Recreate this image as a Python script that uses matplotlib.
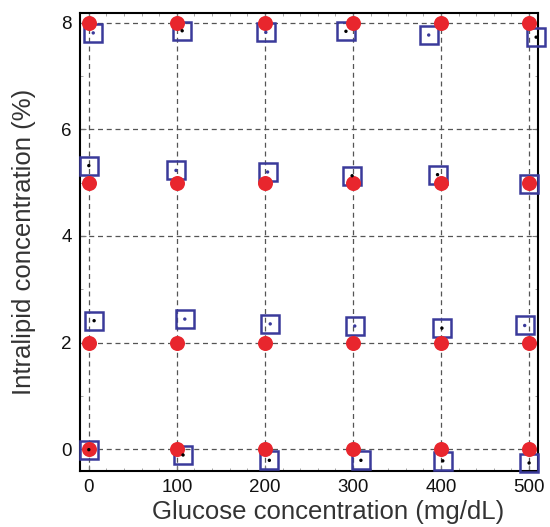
import matplotlib
matplotlib.use("Agg")
import matplotlib.pyplot as plt
from matplotlib.ticker import MultipleLocator

# Actual (reference) concentrations
glucose_true = [0, 100, 200, 300, 400, 500] * 4
intralipid_true = [0] * 6 + [2] * 6 + [5] * 6 + [8] * 6

# Predicted concentrations (open squares)
glucose_pred = [0, 107, 205, 309, 402, 500,
                6, 109, 206, 302, 401, 495,
                0, 99, 203, 299, 396, 500,
                5, 106, 201, 292, 386, 508]
intralipid_pred = [-0.01, -0.11, -0.21, -0.21, -0.22, -0.26,
                   2.41, 2.44, 2.35, 2.31, 2.27, 2.32,
                   5.32, 5.23, 5.20, 5.13, 5.15, 4.98,
                   7.81, 7.85, 7.82, 7.84, 7.77, 7.73]
dot_colors = ["k", "k", "k", "k", "k", "k",
              "k", "#3a3a9a", "#3a3a9a", "#3a3a9a", "k", "#3a3a9a",
              "k", "#3a3a9a", "#3a3a9a", "k", "k", "#e8262d",
              "#3a3a9a", "k", "#3a3a9a", "k", "#3a3a9a", "k"]

xticks = [0, 100, 200, 300, 400, 500]
yticks = [0, 2, 4, 6, 8]

plt.rcParams['font.family'] = ['Liberation Sans', 'DejaVu Sans']

fig = plt.figure(figsize=(5.5, 5.27), dpi=100)
ax = fig.add_axes([0.1455, 0.1063, 0.978 - 0.1455, 0.976 - 0.1063])

ax.plot(glucose_pred, intralipid_pred, linestyle="none", marker="s",
        markersize=13.5, markerfacecolor="none", markeredgecolor="#3a3a9a",
        markeredgewidth=1.8, zorder=3, clip_on=False)
ax.plot(glucose_true, intralipid_true, linestyle="none", marker="o",
        markersize=10.8, markerfacecolor="#e8262d", markeredgecolor="none",
        zorder=4, clip_on=False)
ax.scatter(glucose_pred, intralipid_pred, s=6, c=dot_colors, zorder=5,
           clip_on=False, linewidths=0)

ax.set_xlim(-10, 510)
ax.set_ylim(-0.41, 8.19)
ax.set_xticks(xticks)
ax.set_yticks(yticks)
ax.xaxis.set_minor_locator(MultipleLocator(20))
ax.yaxis.set_minor_locator(MultipleLocator(1))
ax.tick_params(which="major", direction="in", length=4, width=0.8,
               color="#777777", labelsize=13.5, labelcolor="#111111",
               top=True, right=True, pad=6)
ax.tick_params(which="minor", direction="in", length=2, width=0.6,
               color="#999999", top=True, right=True)
ax.grid(True, which="major", linestyle=(0, (4, 3)), color="#555555", linewidth=0.9)
ax.set_axisbelow(True)
for sp in ax.spines.values():
    sp.set_linewidth(1.5)
    sp.set_color("black")

ax.set_xlabel("Glucose concentration (mg/dL)", fontsize=18.5, color="#333333")
ax.set_ylabel("Intralipid concentration (%)", fontsize=18.5, color="#333333")
ax.xaxis.set_label_coords(0.542, -0.063, transform=ax.transAxes)
ax.yaxis.set_label_coords(-0.097, 0.5, transform=ax.transAxes)

fig.savefig("out.png", dpi=100)
